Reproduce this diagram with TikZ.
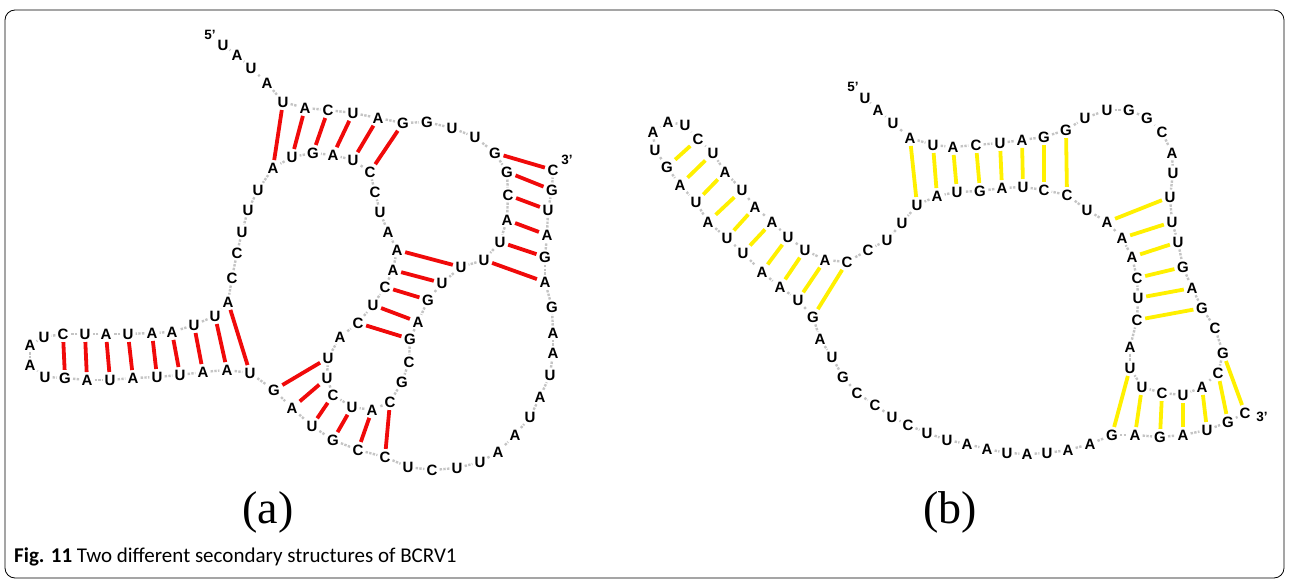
\documentclass[tikz,border=0pt]{standalone}
\usepackage{fontspec}
\setmainfont{Liberation Sans}
\newfontfamily\panelfont{Liberation Serif}
\newfontfamily\capfont{Carlito}
\usepackage{tikz}
\definecolor{pairred}{HTML}{F00A0A}
\definecolor{pairyellow}{HTML}{FFF000}
\definecolor{backbone}{HTML}{C4C4C4}
\tikzset{
  nt/.style={font=\fontsize{15}{15}\selectfont\bfseries,inner sep=0.6pt,text=black},
  bb/.style={draw=backbone,line width=2.4pt,shorten >=1.4pt,shorten <=1.4pt,
    dash pattern=on 2.4pt off 1.3pt},
  bp/.style={draw=#1,line width=3.8pt,shorten >=2pt,shorten <=2pt},
  bp/.default={pairred},
  endlbl/.style={font=\fontsize{13.5}{13.5}\selectfont\bfseries,inner sep=0pt},
  panel/.style={font=\panelfont\fontsize{46}{46}\selectfont,inner sep=0pt},
}

\begin{document}
\begin{tikzpicture}[x=1pt,y=-1pt]
  \useasboundingbox (0,0) rectangle (1290,580);
  \draw[line width=0.8pt,rounded corners=10pt] (5,10) rectangle (1284,578);

  % structure (a)
  \foreach \n/\t/\x/\y in {1/U/223/45, 2/A/237/55, 3/U/251/68, 4/A/267/83, 5/U/283/102,
    6/A/305/108, 7/C/328/110, 8/U/353/113, 9/A/378/118, 10/G/403/123, 11/G/427/122,
    12/U/452/128, 13/U/475/137, 14/G/495/153, 15/G/507/172, 16/C/508/195, 17/A/507/220,
    18/U/500/242, 19/U/484/260, 20/U/461/267, 21/U/442/283, 22/G/428/300, 23/A/418/322,
    24/G/410/339, 25/C/409/362, 26/G/402/382, 27/C/390/402, 28/A/372/410, 29/U/352/407,
    30/C/333/395, 31/U/327/378, 32/U/328/358, 33/A/340/337, 34/C/358/323, 35/U/373/305,
    36/C/385/287, 37/A/393/270, 38/A/397/250, 39/A/388/232, 40/U/380/212, 41/C/375/192,
    42/C/370/172, 43/U/353/160, 44/A/333/155, 45/G/313/153, 46/U/292/157, 47/A/273/168,
    48/U/258/190, 49/U/248/210, 50/U/242/232, 51/C/237/253, 52/C/232/278, 53/A/228/302,
    54/U/215/316, 55/U/194/325, 56/A/172/332, 57/A/152/333, 58/U/128/334, 59/A/106/334,
    60/U/85/334, 61/C/63/334, 62/U/44/337, 63/A/30/345, 64/A/30/365, 65/U/45/377,
    66/G/65/378, 67/A/87/380, 68/U/110/380, 69/A/133/378, 70/U/157/377, 71/U/180/375,
    72/A/203/372, 73/A/227/370, 74/U/250/373, 75/G/274/390, 76/A/292/408, 77/U/312/426,
    78/G/333/440, 79/C/358/450, 80/C/385/457, 81/U/408/467, 82/C/432/470, 83/U/457/468,
    84/U/480/462, 85/A/498/452, 86/A/515/435, 87/U/530/417, 88/A/540/397, 89/U/550/375,
    90/A/553/353, 91/A/553/333, 92/G/552/307, 93/A/545/282, 94/G/545/257, 95/A/547/235,
    96/U/548/210, 97/G/552/190, 98/C/553/170}
    \node[nt] (a\n) at (\x,\y) {\t};
  \node[endlbl] (a5p) at (210,35) {5'};
  \node[endlbl] (a3p) at (567,160) {3'};
  \foreach \n [remember=\n as \m (initially 1)] in {2,...,98}
    \draw[bb] (a\m) -- (a\n);
  \foreach \p/\q in {5/47,6/46,7/45,8/44,9/43,10/42, 14/98,15/97,16/96,17/95,18/94,19/93,
    20/38,21/37,22/36,23/35,24/34, 27/80,28/79,29/78,30/77,31/76,32/75,
    53/74,54/73,55/72,56/71,57/70,58/69,59/68,60/67,61/66}
    \draw[bp] (a\p) -- (a\q);

  % structure (b)
  \foreach \n/\t/\x/\y in {1/U/865/98, 2/A/878/110, 3/U/893/123, 4/A/910/138, 5/U/933/145,
    6/A/953/147, 7/C/976/145, 8/U/1000/143, 9/A/1022/140, 10/G/1044/137, 11/G/1066/130,
    12/U/1085/118, 13/U/1107/110, 14/G/1129/110, 15/G/1147/118, 16/C/1162/132,
    17/A/1172/153, 18/U/1173/173, 19/U/1170/197, 20/U/1172/222, 21/U/1178/242,
    22/G/1183/267, 23/A/1192/288, 24/G/1202/308, 25/C/1215/328, 26/G/1223/353,
    27/C/1218/373, 28/A/1202/387, 29/U/1183/395, 30/C/1162/393, 31/U/1142/387,
    32/U/1130/368, 33/A/1130/347, 34/C/1137/320, 35/U/1138/298, 36/C/1137/278,
    37/A/1132/257, 38/A/1122/238, 39/A/1107/222, 40/U/1087/210, 41/C/1067/195,
    42/C/1044/190, 43/U/1023/187, 44/A/1002/188, 45/G/980/191, 46/U/957/192,
    47/A/937/196, 48/U/917/205, 49/U/902/223, 50/U/887/240, 51/C/868/250, 52/C/847/262,
    53/A/825/260, 54/U/805/250, 55/U/788/237, 56/A/772/222, 57/A/755/207, 58/U/742/190,
    59/A/725/172, 60/U/713/153, 61/C/698/139, 62/U/685/125, 63/A/668/122, 64/A/653/132,
    65/U/655/150, 66/G/667/167, 67/A/680/185, 68/U/696/202, 69/A/708/222, 70/U/727/238,
    71/U/743/253, 72/A/762/272, 73/A/780/287, 74/U/798/300, 75/G/813/317, 76/A/820/339,
    77/U/832/357, 78/G/843/377, 79/C/857/393, 80/C/875/405, 81/U/892/417, 82/C/908/425,
    83/U/927/433, 84/U/947/440, 85/A/967/444, 86/A/987/449, 87/U/1007/453, 88/A/1027/454,
    89/U/1047/453, 90/A/1068/450, 91/A/1090/444, 92/G/1112/435, 93/A/1135/435,
    94/G/1160/437, 95/A/1183/435, 96/U/1207/430, 97/G/1228/422, 98/C/1245/413}
    \node[nt] (b\n) at (\x,\y) {\t};
  \node[endlbl] (b5p) at (853,87) {5'};
  \node[endlbl] (b3p) at (1262,417) {3'};
  \foreach \n [remember=\n as \m (initially 1)] in {2,...,98}
    \draw[bb] (b\m) -- (b\n);
  \foreach \p/\q in {4/48,5/47,6/46,7/45,8/44,9/43,10/42,11/41,
    19/39,20/38,21/37,22/36,23/35,24/34, 26/98,27/97,28/96,29/95,30/94,31/93,32/92,
    52/75,53/74,54/73,55/72,56/71,57/70,58/69,59/68,60/67,61/66}
    \draw[bp=pairyellow] (b\p) -- (b\q);

  \node[panel] (lbla) at (268,512) {(a)};
  \node[panel] (lblb) at (950,512) {(b)};
  \node[anchor=base west,inner sep=0pt,font=\capfont\fontsize{21}{21}\selectfont] (cap)
    at (14,562) {\textbf{Fig. 11} Two different secondary structures of BCRV1};
\end{tikzpicture}
\end{document}
